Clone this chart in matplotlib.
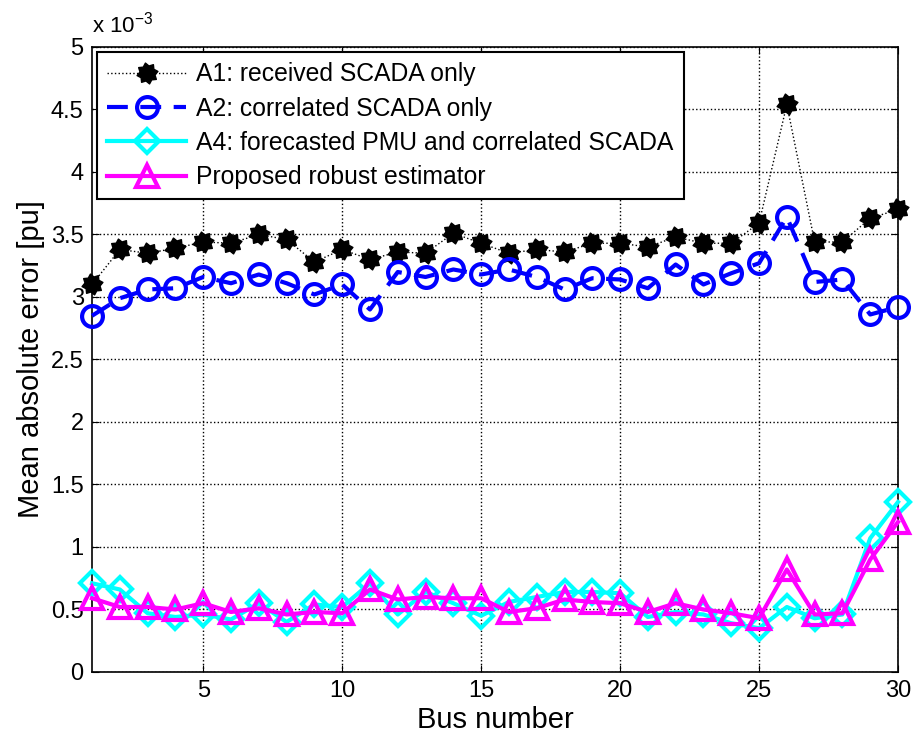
import numpy as np
import matplotlib
matplotlib.use('Agg')
import matplotlib.pyplot as plt
from matplotlib.path import Path
from matplotlib.ticker import FormatStrFormatter

plt.rcParams['font.family'] = ['Liberation Sans', 'DejaVu Sans']
plt.rcParams['mathtext.fontset'] = 'custom'
plt.rcParams['mathtext.rm'] = 'Liberation Sans'

# values in units of 1e-3 pu
bus = list(range(1, 31))
a1 = [3.10, 3.38, 3.35, 3.39, 3.44, 3.43, 3.50, 3.46, 3.28, 3.38,
      3.30, 3.36, 3.35, 3.51, 3.43, 3.35, 3.38, 3.36, 3.43, 3.43,
      3.40, 3.48, 3.43, 3.43, 3.59, 4.54, 3.44, 3.44, 3.63, 3.70]
a2 = [2.85, 2.99, 3.06, 3.07, 3.16, 3.11, 3.18, 3.11, 3.02, 3.10,
      2.90, 3.20, 3.16, 3.22, 3.18, 3.22, 3.16, 3.06, 3.15, 3.14,
      3.07, 3.26, 3.10, 3.19, 3.27, 3.64, 3.12, 3.14, 2.86, 2.92]
a4 = [0.71, 0.66, 0.47, 0.44, 0.46, 0.42, 0.55, 0.40, 0.54, 0.52,
      0.71, 0.46, 0.64, 0.55, 0.45, 0.56, 0.60, 0.64, 0.64, 0.63,
      0.44, 0.48, 0.46, 0.39, 0.35, 0.52, 0.43, 0.46, 1.07, 1.36]
robust = [0.59, 0.52, 0.52, 0.50, 0.55, 0.48, 0.51, 0.46, 0.48, 0.47,
          0.66, 0.58, 0.60, 0.59, 0.59, 0.48, 0.51, 0.58, 0.56, 0.55,
          0.48, 0.55, 0.50, 0.47, 0.43, 0.82, 0.46, 0.47, 0.90, 1.20]

# blobby asterisk like MATLAB's thick '*' marker
ang = np.linspace(0, 2 * np.pi, 17)[:-1] + np.pi / 16
rad = np.where(np.arange(16) % 2 == 0, 1.0, 0.72)
verts = np.column_stack([rad * np.cos(ang), rad * np.sin(ang)])
star = Path(np.vstack([verts, verts[:1]]), closed=True)

fig = plt.figure(figsize=(9.14, 7.4), dpi=100)
ax = fig.add_axes([0.1007, 0.0919, 0.8818, 0.8446])

ax.plot(bus, a1, color='black', linestyle=':', linewidth=1.0,
        marker=star, markersize=15, markerfacecolor='black',
        markeredgecolor='black', clip_on=False, zorder=3,
        label='A1: received SCADA only')
ax.plot(bus, a2, color='blue', linestyle='--', dashes=(5, 3), linewidth=3,
        marker='o', markersize=15, markerfacecolor='none',
        markeredgewidth=3, clip_on=False, zorder=3,
        label='A2: correlated SCADA only')
ax.plot(bus, a4, color='cyan', linestyle='-', linewidth=3,
        marker='D', markersize=12.5, markerfacecolor='none',
        markeredgewidth=3, clip_on=False, zorder=3,
        label='A4: forecasted PMU and correlated SCADA')
ax.plot(bus, robust, color='magenta', linestyle='-', linewidth=3,
        marker='^', markersize=16.5, markerfacecolor='none',
        markeredgewidth=3, clip_on=False, zorder=3,
        label='Proposed robust estimator')

ax.set_xlim(1, 30)
ax.set_ylim(0, 5)
ax.set_xticks([5, 10, 15, 20, 25, 30])
ax.set_yticks(np.arange(0, 5.01, 0.5))
ax.yaxis.set_major_formatter(FormatStrFormatter('%g'))
ax.tick_params(direction='in', labelsize=17, top=True, right=True,
               length=5, pad=6)
ax.grid(True, color='black', linestyle=':', linewidth=1)
for s in ax.spines.values():
    s.set_linewidth(1.2)

ax.set_xlabel('Bus number', fontsize=21, labelpad=3)
ax.set_ylabel('Mean absolute error [pu]', fontsize=21, labelpad=4)
ax.text(0.0, 1.015, r'x 10$^{-3}$', transform=ax.transAxes, fontsize=16,
        ha='left', va='bottom')

leg = ax.legend(loc='upper left', fontsize=17.8, frameon=True, fancybox=False,
                edgecolor='black', framealpha=1, borderaxespad=0.22,
                handlelength=3.2, handletextpad=0.4, labelspacing=0.42,
                borderpad=0.4)
leg.get_frame().set_linewidth(1.5)

fig.savefig('out.png', dpi=100)
